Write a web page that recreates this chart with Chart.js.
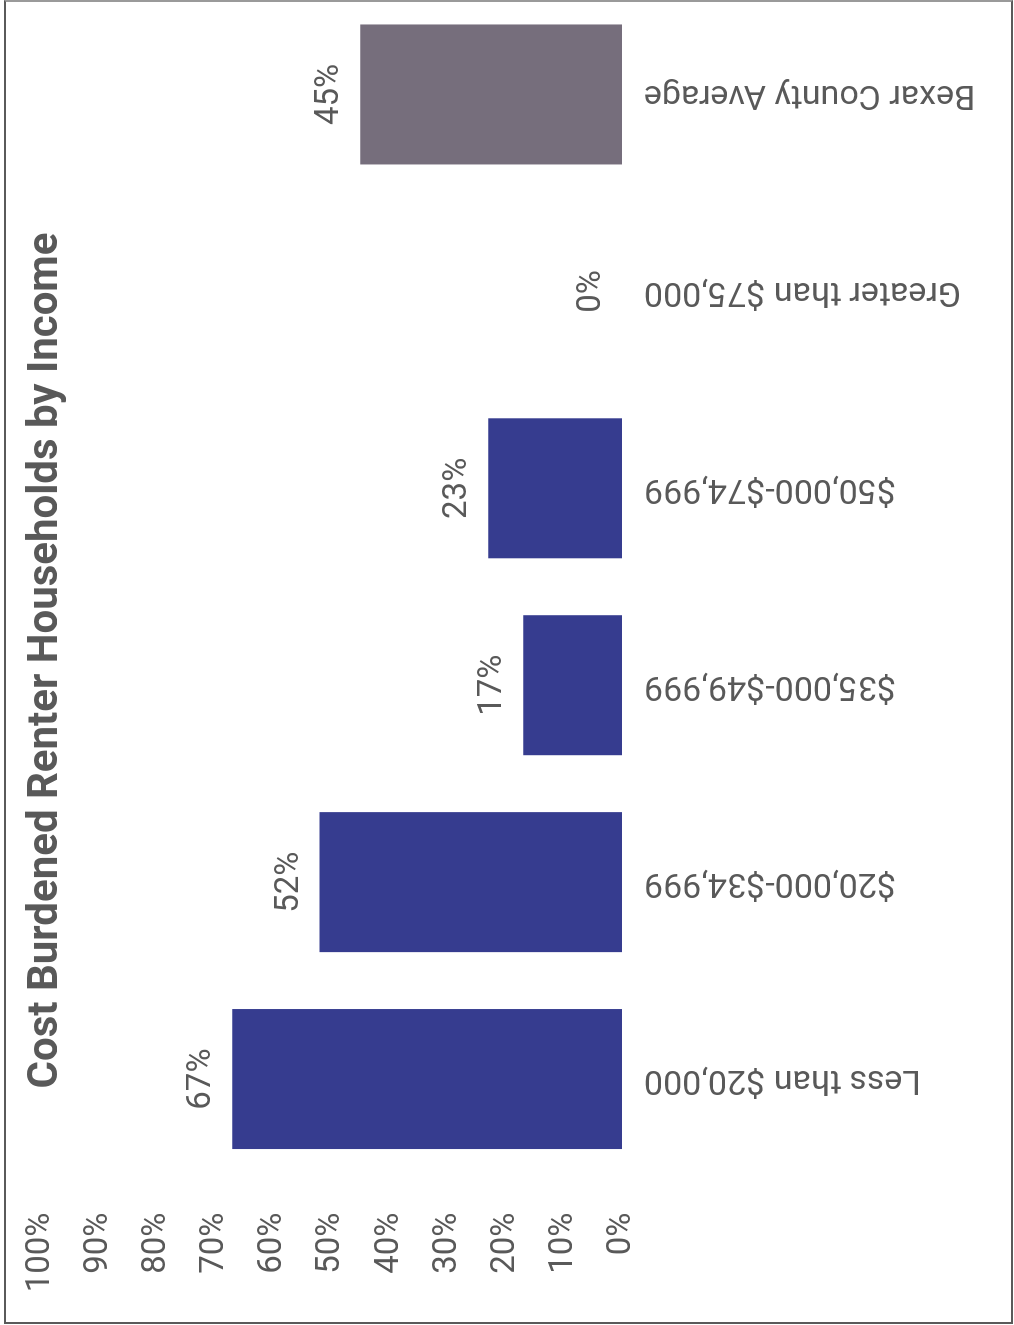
<!DOCTYPE html>
<html>
<head>
<meta charset="utf-8">
<script src="https://cdn.jsdelivr.net/npm/chart.js@4"></script>
<style>
  html, body { margin: 0; padding: 0; background: #fff; overflow: hidden; }
  body { width: 1014px; height: 1325px; position: relative; }
  /* chart is drawn landscape, then turned a quarter left like the scan */
  #turn {
    position: absolute; left: 0; top: 0;
    width: 1335px; height: 1014px;
    transform-origin: 0 0;
    transform: translateY(1325px) rotate(-90deg);
  }
  #frame {
    position: absolute; left: 4px; top: 0; width: 1005px; height: 1320px;
    border: 2px solid #5a5a5a; border-top-color: #9a9a9a;
    pointer-events: none;
  }
</style>
</head>
<body>
<div id="turn"><canvas id="chart" width="1335" height="1014"></canvas></div>
<div id="frame"></div>
<script>
const categories = [
  'Less than $20,000',
  '$20,000-$34,999',
  '$35,000-$49,999',
  '$50,000-$74,999',
  'Greater than $75,000',
  'Bexar County Average'
];
const shares = [67, 52, 17, 23, 0, 45];
const barColors = ['#363c8f', '#363c8f', '#363c8f', '#363c8f', '#363c8f', '#766e7c'];
const valueTicks = [0, 10, 20, 30, 40, 50, 60, 70, 80, 90, 100];

const textGray = '#595959';
const font = { family: 'Roboto', size: 33 };

// values written above each bar
const barLabels = {
  id: 'barLabels',
  afterDatasetsDraw(chart) {
    const ctx = chart.ctx;
    const meta = chart.getDatasetMeta(0);
    ctx.save();
    ctx.font = `${font.size}px ${font.family}`;
    ctx.fillStyle = textGray;
    ctx.textAlign = 'center';
    ctx.textBaseline = 'alphabetic';
    meta.data.forEach((bar, i) => {
      ctx.fillText(shares[i] + '%', bar.x, bar.y - 22);
    });
    ctx.restore();
  }
};

new Chart(document.getElementById('chart'), {
  type: 'bar',
  data: {
    labels: categories,
    datasets: [{
      data: shares,
      backgroundColor: barColors,
      borderWidth: 0,
      categoryPercentage: 1,
      barPercentage: 0.711
    }]
  },
  options: {
    responsive: false,
    devicePixelRatio: 1,
    animation: false,
    layout: { padding: { left: 0, right: 6, top: 0, bottom: 0 } },
    plugins: {
      legend: { display: false },
      tooltip: { enabled: false },
      title: {
        display: true,
        text: 'Cost Burdened Renter Households by Income',
        color: textGray,
        font: { family: 'Roboto', size: 42, weight: 'bold' },
        padding: { top: 21, bottom: -31 }
      }
    },
    scales: {
      x: {
        grid: { display: false, drawTicks: false },
        border: { display: false },
        ticks: {
          autoSkip: false,
          minRotation: 90,
          maxRotation: 90,
          padding: 22,
          color: textGray,
          font: { family: 'Roboto', size: 34 }
        },
        afterFit: (scale) => { scale.height = 392; }
      },
      y: {
        min: 0,
        max: 100,
        grid: { display: false, drawTicks: false },
        border: { display: false },
        afterBuildTicks: (scale) => { scale.ticks = valueTicks.map(v => ({ value: v })); },
        ticks: {
          padding: 35,
          color: textGray,
          font: font,
          callback: (v) => v + '%'
        },
        afterFit: (scale) => {
          scale.width = 147.5;
          scale.paddingTop = 0;
        }
      }
    }
  },
  plugins: [barLabels]
});
</script>
</body>
</html>
